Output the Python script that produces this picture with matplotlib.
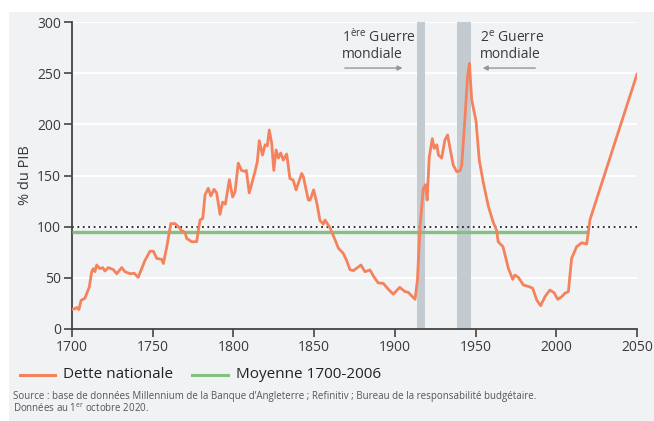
import matplotlib
matplotlib.use("Agg")
import matplotlib.pyplot as plt
from matplotlib.lines import Line2D
from matplotlib.patches import Rectangle

# ---- data ----
years = [1700, 1702, 1703, 1704.3, 1705.6, 1708, 1710.7, 1712.2, 1713.2, 1714.2,
         1715.3, 1717.3, 1719, 1720.4, 1722.5, 1725.6, 1727.7, 1730.8, 1732.8, 1736,
         1738.6, 1741, 1745.2, 1748.3, 1750.4, 1752.5, 1755.6, 1756.6, 1758.7, 1761.2,
         1763.8, 1765.9, 1768, 1770, 1771, 1774.1, 1777.2, 1779.3, 1781, 1782.4,
         1784.4, 1786, 1788, 1789.6, 1791.7, 1793.3, 1795, 1797.5, 1799.5, 1801,
         1803, 1805, 1807, 1808, 1809.8, 1813.4, 1814.8, 1816, 1818, 1819.6,
         1821, 1822.2, 1823.7, 1825, 1826.4, 1827.8, 1829.3, 1830.9, 1833, 1835,
         1837, 1838.8, 1842.3, 1843.3, 1846.4, 1847.5, 1849.7, 1851.8, 1853.6, 1855.7,
         1856.7, 1859.8, 1863, 1865, 1868, 1870, 1872.2, 1874.3, 1879, 1881.5,
         1884.6, 1887, 1889.7, 1892.8, 1896, 1899, 1903, 1906.3, 1908.3, 1912.5,
         1914, 1915.6, 1917.6, 1919, 1920, 1921.3, 1923.2, 1924.4, 1926, 1927,
         1929, 1931, 1932.7, 1934, 1936.2, 1938.3, 1940.4, 1941.4, 1943.5, 1945,
         1946.2, 1947.6, 1950.3, 1952.3, 1954.8, 1957.9, 1961, 1963, 1964, 1967,
         1970.3, 1973, 1974.4, 1976.5, 1979.6, 1983.3, 1985.4, 1987.9, 1990.3, 1993,
         1996, 1998.6, 2000.9, 2003.4, 2005.4, 2007.5, 2009.5, 2012.6, 2015.7, 2018.8,
         2020.9, 2050]
debt = [19, 20, 21, 19, 28, 30, 41, 56, 59, 56,
        62.5, 59, 60, 56.7, 60, 58, 54, 60, 56, 54,
        54.4, 50.5, 67, 76, 76, 69, 68, 64, 80, 103,
        103, 100, 96, 94.5, 88.6, 85.3, 85.3, 106.5, 108, 131,
        137.5, 130, 136.5, 133, 112, 124, 122, 146, 129, 134,
        162, 155, 154, 155, 133, 154, 163.5, 184, 170, 180,
        179, 194.5, 181.5, 155, 175, 167, 172, 165, 171, 147,
        145.6, 136, 152, 149, 126, 126, 136, 122, 106, 102.5,
        106.5, 99, 87, 79, 74, 67.4, 58, 57, 62.5, 56,
        57.7, 51, 45, 44.6, 38.8, 34, 40.7, 36.5, 35.8, 29,
        48, 100, 137, 141, 126, 168, 186, 176.5, 180, 170,
        167, 184.7, 189.6, 178, 160, 153.7, 154.7, 160, 207.5, 246.6,
        259.6, 224, 203, 165, 143, 120, 104, 96.7, 85.3, 80.4,
        59.3, 48.5, 52.8, 50.5, 43, 41.3, 39.7, 28.3, 22.8, 31.6,
        38, 35.5, 29, 31.6, 35, 36.5, 69, 80.4, 84.3, 83,
        107, 249]

avg_years = [1700, 2020]
avg_value = [95, 95]
ref_years = [1700, 2050]
ref_value = [100, 100]

wars = [(1914, 1918.5), (1938.5, 1947)]
war_line1 = ["1$^{\\mathrm{ère}}$ Guerre", "2$^{\\mathrm{e}}$ Guerre"]
war_line2 = ["mondiale", "mondiale"]

xticks = [1700, 1750, 1800, 1850, 1900, 1950, 2000, 2050]
yticks = [0, 50, 100, 150, 200, 250, 300]

# ---- style ----
plt.rcParams['font.family'] = ['Open Sans', 'DejaVu Sans']
plt.rcParams['mathtext.fontset'] = 'custom'
plt.rcParams['mathtext.rm'] = 'Open Sans'
plt.rcParams['mathtext.it'] = 'Open Sans'
plt.rcParams['mathtext.bf'] = 'Open Sans'

BG = '#f1f2f4'
ORANGE = '#f4825d'
GREEN = '#84c07f'
BAND = '#c3cbd1'
TXT = '#3a3a3a'
SPINE = '#444444'
ARROW = '#8d979f'

W, H = 654, 421
fig = plt.figure(figsize=(W / 100, H / 100), dpi=100, facecolor='white')
fig.add_artist(Rectangle((9 / W, 0), 1 - 9 / W, 1 - 12 / H, transform=fig.transFigure,
                         facecolor=BG, edgecolor='none', zorder=-10))

ax = fig.add_axes([72 / W, 1 - 329 / H, (637 - 72) / W, (329 - 22) / H])
ax.set_facecolor('none')

for v in yticks[1:]:
    ax.axhline(v, color='white', lw=1.4, zorder=0)

for a, b in wars:
    ax.axvspan(a, b, color=BAND, lw=0, zorder=1)

ax.plot(ref_years, ref_value, color='#222222', lw=1.3, ls=(0, (1, 2)), zorder=2)
ax.plot(avg_years, avg_value, color=GREEN, lw=2.4, zorder=3, solid_capstyle='butt')
ax.plot(years, debt, color=ORANGE, lw=2.0, zorder=4, solid_joinstyle='round')

ax.set_xlim(1700, 2050)
ax.set_ylim(0, 300)
ax.set_xticks(xticks)
ax.set_yticks(yticks)
ax.tick_params(colors=SPINE, labelcolor=TXT, labelsize=10, length=6, width=1.2, pad=2)
for s in ['top', 'right']:
    ax.spines[s].set_visible(False)
for s in ['left', 'bottom']:
    ax.spines[s].set_color(SPINE)
    ax.spines[s].set_linewidth(1.3)
ax.set_ylabel('% du PIB', color=TXT, fontsize=10.5, labelpad=3)

# war annotations
for x0, l1, l2 in [(1867.3, war_line1[0], war_line2[0]), (1952.7, war_line1[1], war_line2[1])]:
    ax.text(x0, 280.5, l1, ha='left', va='baseline', fontsize=10, color=TXT)
    ax.text(x0, 264.8, l2, ha='left', va='baseline', fontsize=10, color=TXT)
ax.annotate('', xy=(1906.5, 255), xytext=(1867.3, 255),
            arrowprops=dict(arrowstyle='-|>', color=ARROW, lw=1.0, mutation_scale=7))
ax.annotate('', xy=(1952.7, 255), xytext=(1988.7, 255),
            arrowprops=dict(arrowstyle='-|>', color=ARROW, lw=1.0, mutation_scale=7))

# legend (manual)
ly = 1 - 375 / H
fig.add_artist(Line2D([20 / W, 55 / W], [ly, ly], color=ORANGE, lw=2.2))
fig.text(63 / W, ly, 'Dette nationale', va='center', ha='left', fontsize=11, color='#222222')
fig.add_artist(Line2D([192 / W, 228 / W], [ly, ly], color=GREEN, lw=2.2))
fig.text(236 / W, ly, 'Moyenne 1700-2006', va='center', ha='left', fontsize=11, color='#222222')

fig.text(13 / W, 1 - 396 / H,
         "Source : base de données Millennium de la Banque d’Angleterre ; Refinitiv ; "
         "Bureau de la responsabilité budgétaire.",
         va='center', ha='left', fontsize=7, color='#555555')
fig.text(13 / W, 1 - 409 / H, "Données au 1$^{\\mathrm{er}}$ octobre 2020.",
         va='center', ha='left', fontsize=7, color='#555555')

fig.savefig('out.png', dpi=100, facecolor='white')
